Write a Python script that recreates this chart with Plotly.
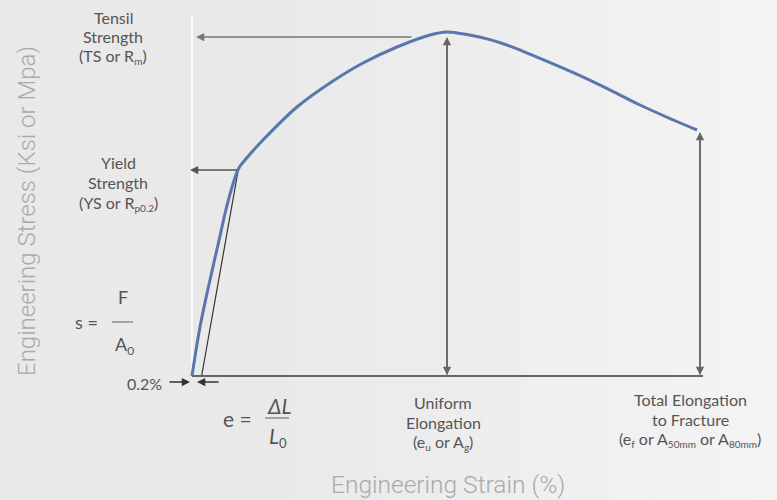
import plotly.graph_objects as go

# ---- data (schematic engineering stress-strain curve) ----
strain = [0, 0.4, 0.82, 1.32, 1.82, 2.32, 2.65, 3.55, 5.25, 6.9, 8.55, 10.25, 11.9,
          12.75, 13.25, 14.07, 14.9, 15.74, 16.55, 17.4, 19.07, 20.74, 22.4, 24.07, 25.25]
stress = [0, 73.5, 133.5, 199.5, 264, 310.5, 324, 354, 403.5, 439.5, 469.5, 493.5, 511.5,
          516, 514.5, 510.5, 504.5, 496.5, 487, 476.5, 455, 431.5, 406.5, 384, 369]
offset_strain = [0.48, 2.32]          # 0.2% offset line
offset_stress = [0, 310.5]
yield_pt = (2.32, 310.5)
ts_pt = (12.75, 516)
fracture_pt = (25.25, 369)

W, H = 777, 500
X0, Y0 = 192, 376          # pixel of origin
SX, SY = 20.0, 1 / 1.5     # pixels per unit
xr = [-X0 / SX, (W - X0) / SX]
yr = [-(H - Y0) / SY, Y0 / SY]

def P(px, py):
    return px / W, 1 - py / H

fig = go.Figure()

# background gradient strips
n = 24
for i in range(n):
    x0 = 0.35 + 0.65 * i / n
    x1 = 0.35 + 0.65 * (i + 1) / n + 0.002
    v = int(round(0xE9 + (0xF4 - 0xE9) * (i + 0.5) / n))
    fig.add_shape(type="rect", xref="paper", yref="paper", x0=x0, x1=min(x1, 1.0), y0=0, y1=1,
                  fillcolor=f"rgb({v},{v},{v})", line_width=0, layer="below")

# axes lines
fig.add_shape(type="line", xref="x", yref="y", x0=0, x1=0, y0=0, y1=541,
              line=dict(color="white", width=1.5), layer="below")
fig.add_shape(type="line", xref="x", yref="y", x0=0, x1=fracture_pt[0] + 0.3, y0=0, y1=0,
              line=dict(color="#666666", width=2))

# offset line
fig.add_trace(go.Scatter(x=offset_strain, y=offset_stress, mode="lines",
                         line=dict(color="#333333", width=1.2), hoverinfo="skip"))
# curve
fig.add_trace(go.Scatter(x=strain, y=stress, mode="lines", line_shape="spline",
                         line=dict(color="#5a77ad", width=3), hoverinfo="skip"))

AC = "#666666"
def arrow(x, y, ax, ay, color=AC, width=1.5):
    fig.add_annotation(x=x, y=y, ax=ax, ay=ay, xref="x", yref="y", axref="x", ayref="y",
                       text="", showarrow=True, arrowhead=2, arrowsize=1.1,
                       arrowwidth=width, arrowcolor=color)

ts_y = ts_pt[1] - 7.5
arrow(0.2, ts_y, 11.05, ts_y, color="#777777", width=1.5)
arrow(-0.1, yield_pt[1] - 1.5, yield_pt[0], yield_pt[1] - 1.5, color="#555555")
arrow(ts_pt[0], ts_y, ts_pt[0], 0)
arrow(ts_pt[0], 1.5, ts_pt[0], ts_y)
arrow(fracture_pt[0] + 0.15, fracture_pt[1] - 3, fracture_pt[0] + 0.15, 0)
arrow(fracture_pt[0] + 0.15, 1.5, fracture_pt[0] + 0.15, fracture_pt[1] - 3)
arrow(-0.1, -9, -1.2, -9, color="#333333")
arrow(0.25, -9, 1.4, -9, color="#333333")

LF = "Lato"
LC = "#555555"
def sub(s, size=10):
    return f"<sub><span style='font-size:{size}px'>{s}</span></sub>"

def txt(px, py, s, size=16, xanchor="center", color=LC, family=LF):
    x, y = P(px, py)
    fig.add_annotation(x=x, y=y, xref="paper", yref="paper", text=s, showarrow=False,
                       xanchor=xanchor, yanchor="middle",
                       font=dict(family=family, size=size, color=color))

txt(113, 17, "Tensil")
txt(113, 37, "Strength")
txt(113, 57, "(TS or R" + sub("m") + ")")
txt(118, 162, "Yield")
txt(118, 182, "Strength")
txt(118, 203, "(YS or R" + sub("p0.2") + ")")

txt(86, 322, "s =", size=18)
txt(123, 297, "F", size=18)
txt(124, 345, "A" + sub("0", 12), size=18)
x0p, yb = P(112, 322)
x1p, _ = P(133, 322)
fig.add_shape(type="line", xref="paper", yref="paper", x0=x0p, x1=x1p, y0=yb, y1=yb,
              line=dict(color="#777777", width=1.2))

txt(164, 383, "0.2%", size=16, xanchor="right")

txt(238, 418, "e =", size=21)
txt(279, 405, "<i>ΔL</i>", size=21)
txt(278, 437, "<i>L</i>" + sub("0", 13), size=21)
x0p, yb = P(265, 418)
x1p, _ = P(289, 418)
fig.add_shape(type="line", xref="paper", yref="paper", x0=x0p, x1=x1p, y0=yb, y1=yb,
              line=dict(color="#777777", width=1.2))

txt(443, 402, "Uniform")
txt(443, 422, "Elongation")
txt(443, 442, "(e" + sub("u") + " or A" + sub("g") + ")")
txt(690, 399, "Total Elongation")
txt(690, 419, "to Fracture")
txt(690, 439, "(e" + sub("f") + " or A" + sub("50mm") + " or A" + sub("80mm") + ")")

# axis titles
x, y = P(448, 484)
fig.add_annotation(x=x, y=y, xref="paper", yref="paper", text="Engineering Strain (%)",
                   showarrow=False, xanchor="center", yanchor="middle",
                   font=dict(family="Roboto", size=24.5, color="#aaaaaa", weight=300))
x, y = P(27, 211)
fig.add_annotation(x=x, y=y, xref="paper", yref="paper", text="Engineering Stress (Ksi or Mpa)",
                   showarrow=False, textangle=-90, xanchor="center", yanchor="middle",
                   font=dict(family="Roboto", size=24, color="#aaaaaa", weight=300))

fig.update_layout(
    width=W, height=H, margin=dict(l=0, r=0, t=0, b=0),
    paper_bgcolor="#e9e9e9", plot_bgcolor="rgba(0,0,0,0)", showlegend=False,
    xaxis=dict(range=xr, visible=False, fixedrange=True),
    yaxis=dict(range=yr, visible=False, fixedrange=True),
)
fig.write_html("out.html", config={"displayModeBar": False},
               post_script="document.body.style.margin='0px';document.body.style.background='#e9e9e9';")
